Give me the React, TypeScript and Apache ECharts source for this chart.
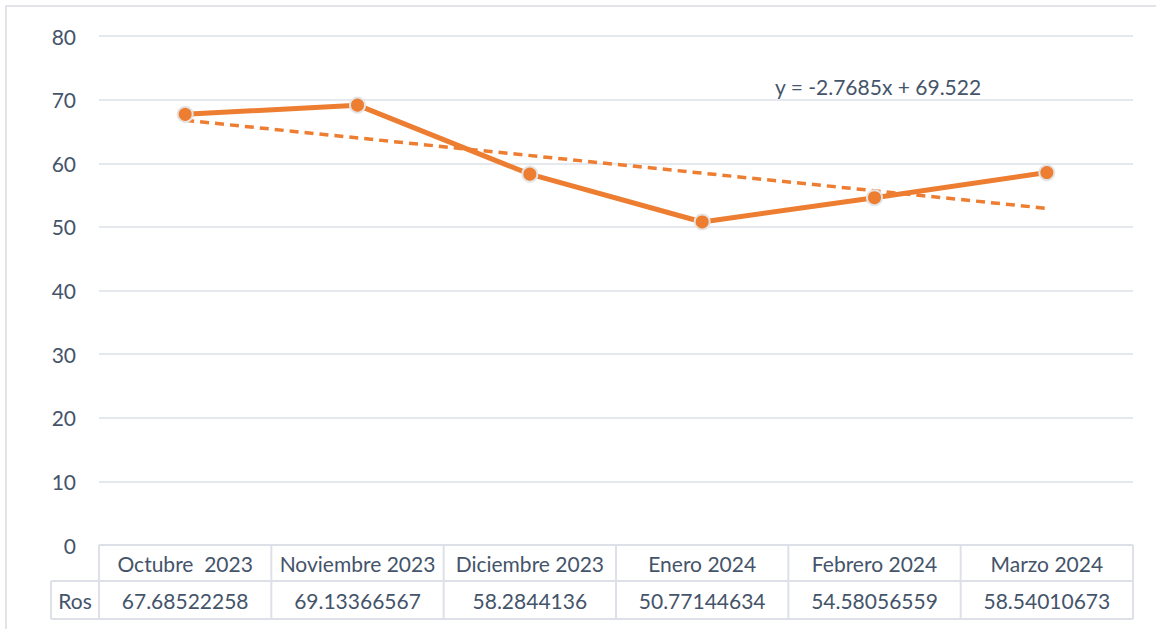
import React, { useEffect, useRef } from "react";
import * as echarts from "echarts";

const categories = ["Octubre  2023", "Noviembre 2023", "Diciembre 2023", "Enero 2024", "Febrero 2024", "Marzo 2024"];
const rosValues = [67.68522258, 69.13366567, 58.2844136, 50.77144634, 54.58056559, 58.54010673];
const rosLabels = ["67.68522258", "69.13366567", "58.2844136", "50.77144634", "54.58056559", "58.54010673"];
const trendValues = [66.75, null, null, null, null, 52.91];
const seriesName = "Ros";
const trendEquation = "y = -2.7685x + 69.522";
const yMin = 0;
const yMax = 80;
const yInterval = 10;

const W = 1156;
const H = 629;
const gridLeft = 99;
const gridRight = 1133;
const gridTop = 36;
const axisY = 545;
const row1Bottom = 581;
const row2Bottom = 619;
const labelColLeft = 51;
const textColor = "#44546A";
const lineColor = "#DDE1E7";
const orange = "#ED7D31";
const fontFamily = "Lato, 'Open Sans', sans-serif";
const fontSize = 21;

export default function App() {
  const ref = useRef<HTMLDivElement>(null);
  useEffect(() => {
    if (!ref.current) return;
    const chart = echarts.init(ref.current, null, { renderer: "svg" });
    const cellW = (gridRight - gridLeft) / categories.length;
    const graphics: any[] = [
      {
        type: "rect",
        shape: { x: 6, y: 6, width: W + 20, height: H + 20 },
        style: { fill: "none", stroke: "#D9DCE1", lineWidth: 1.5 },
        silent: true,
      },
    ];
    const hLine = (x1: number, x2: number, y: number) => ({
      type: "line",
      shape: { x1, y1: y, x2, y2: y },
      style: { stroke: lineColor, lineWidth: 2 },
      silent: true,
    });
    const vLine = (x: number, y1: number, y2: number) => ({
      type: "line",
      shape: { x1: x, y1, x2: x, y2 },
      style: { stroke: lineColor, lineWidth: 2 },
      silent: true,
    });
    graphics.push(hLine(gridLeft, gridRight, axisY));
    graphics.push(hLine(labelColLeft, gridRight, row1Bottom));
    graphics.push(hLine(labelColLeft, gridRight, row2Bottom));
    graphics.push(vLine(labelColLeft, row1Bottom, row2Bottom));
    for (let i = 0; i <= categories.length; i++) {
      graphics.push(vLine(gridLeft + i * cellW, axisY, row2Bottom));
    }
    graphics.push({
      type: "text",
      x: (labelColLeft + gridLeft) / 2,
      y: (row1Bottom + row2Bottom) / 2,
      style: {
        text: seriesName,
        fill: textColor,
        font: `${fontSize}px ${fontFamily}`,
        align: "center",
        verticalAlign: "middle",
      },
      silent: true,
    });
    graphics.push({
      type: "text",
      x: 775,
      y: 86,
      style: {
        text: trendEquation,
        fill: textColor,
        font: `${fontSize}px ${fontFamily}`,
        align: "left",
        verticalAlign: "middle",
      },
      silent: true,
    });

    chart.setOption({
      animation: false,
      backgroundColor: "#ffffff",
      grid: {
        left: gridLeft,
        right: W - gridRight,
        top: gridTop,
        bottom: H - axisY,
        containLabel: false,
      },
      xAxis: [
        {
          type: "category",
          data: categories,
          boundaryGap: true,
          position: "bottom",
          axisLine: { show: false },
          axisTick: { show: false },
          axisLabel: {
            color: textColor,
            fontFamily,
            fontSize,
            margin: (row1Bottom - axisY) / 2,
            verticalAlign: "middle",
            interval: 0,
          },
        },
        {
          type: "category",
          data: rosLabels,
          boundaryGap: true,
          position: "bottom",
          offset: row1Bottom - axisY,
          axisLine: { show: false },
          axisTick: { show: false },
          axisLabel: {
            color: textColor,
            fontFamily,
            fontSize,
            margin: (row2Bottom - row1Bottom) / 2,
            verticalAlign: "middle",
            interval: 0,
          },
        },
      ],
      yAxis: {
        type: "value",
        min: yMin,
        max: yMax,
        interval: yInterval,
        axisLine: { show: false },
        axisTick: { show: false },
        axisLabel: { color: textColor, fontFamily, fontSize, margin: 23 },
        splitLine: { lineStyle: { color: lineColor, width: 1.5 } },
      },
      graphic: graphics,
      series: [
        {
          name: "Tendencia",
          type: "line",
          data: trendValues,
          connectNulls: true,
          showSymbol: false,
          symbol: "none",
          lineStyle: { color: orange, width: 3.5, type: [9, 6] },
          z: 2,
        },
        {
          name: seriesName,
          type: "line",
          data: rosValues,
          symbol: "circle",
          symbolSize: 15,
          lineStyle: { color: orange, width: 5 },
          itemStyle: { color: orange, borderColor: "#E4E4E4", borderWidth: 2 },
          z: 3,
        },
      ],
    });
    return () => chart.dispose();
  }, []);
  return (
    <div
      ref={ref}
      style={{ position: "absolute", left: 0, top: 0, width: W, height: H, background: "#fff" }}
    />
  );
}
